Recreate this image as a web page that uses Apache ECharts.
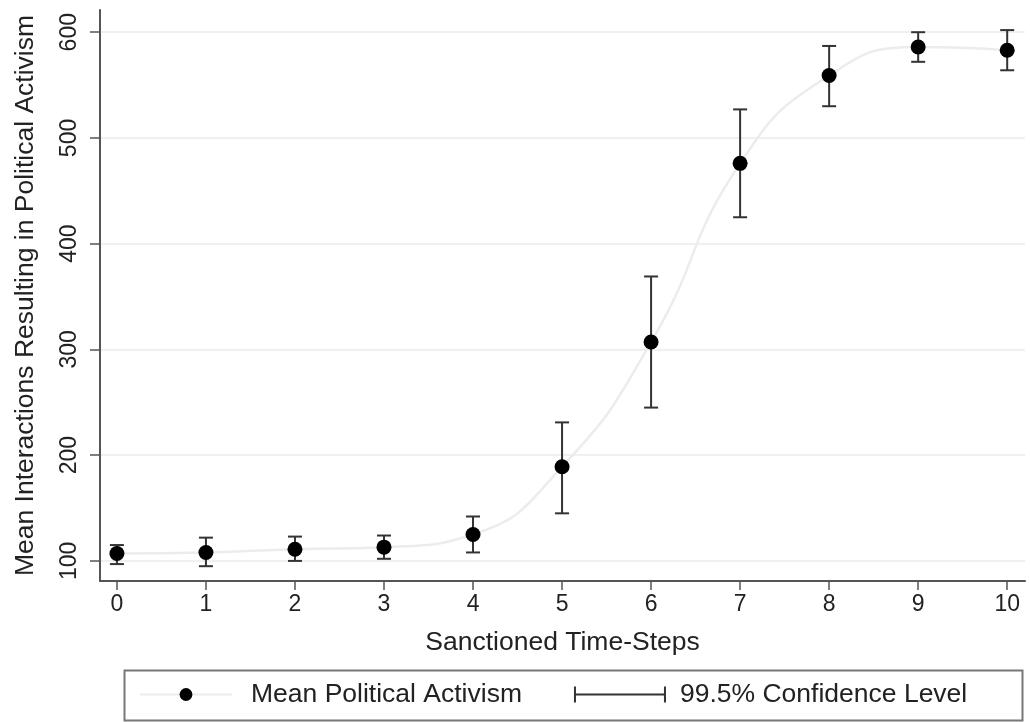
<!DOCTYPE html>
<html>
<head>
<meta charset="UTF-8">
<title>Mean Political Activism</title>
<script src="https://cdn.jsdelivr.net/npm/echarts@6/dist/echarts.min.js"></script>
</head>
<body style="margin:0;background:#fff">
<div id="view" style="width:1030px;height:722px;"></div>
<script>
// values
var steps = [0, 1, 2, 3, 4, 5, 6, 7, 8, 9, 10];
var means = [107, 108, 111, 113, 125, 189, 307, 476, 559, 586, 583];
var lower = [97, 95, 100, 102, 108, 145, 245, 425, 530, 572, 564];
var upper = [115, 122, 123, 124, 142, 231, 369, 527, 587, 600, 602];
var yTicks = [100, 200, 300, 400, 500, 600];
var xTicks = [0, 1, 2, 3, 4, 5, 6, 7, 8, 9, 10];

var font = 'Liberation Sans, Arial, sans-serif';
var meanData = steps.map(function (s, i) { return [s, means[i]]; });
var ciData = steps.map(function (s, i) { return [s, lower[i], upper[i]]; });

var chart = echarts.init(document.getElementById('view'));

function renderBar(params, api) {
    var x = api.value(0);
    var lo = api.coord([x, api.value(1)]);
    var hi = api.coord([x, api.value(2)]);
    var cap = 7;
    var st = { stroke: '#333', lineWidth: 2 };
    return {
        type: 'group',
        children: [
            { type: 'line', shape: { x1: lo[0], y1: lo[1], x2: hi[0], y2: hi[1] }, style: st },
            { type: 'line', shape: { x1: lo[0] - cap, y1: lo[1], x2: lo[0] + cap, y2: lo[1] }, style: st },
            { type: 'line', shape: { x1: hi[0] - cap, y1: hi[1], x2: hi[0] + cap, y2: hi[1] }, style: st }
        ]
    };
}

var option = {
    animation: false,
    backgroundColor: '#fff',
    grid: { left: 100, right: 5, top: 10, bottom: 141, outerBoundsMode: 'none' },
    graphic: [{
        type: 'rect',
        left: 122, top: 668,
        shape: { width: 898, height: 50 },
        style: { fill: 'none', stroke: '#777', lineWidth: 2 }
    }],
    legend: {
        left: 134, top: 676,
        itemGap: 52,
        itemWidth: 92, itemHeight: 16,
        textStyle: { fontFamily: font, fontSize: 26.5, color: '#222', padding: [0, 0, 0, 9] },
        data: [
            { name: 'Mean Political Activism', textStyle: { padding: [0, 0, 0, 14] } },
            { name: '99.5% Confidence Level', icon: 'path://M0,0h2v16h-2z M0,7h92v2h-92z M90,0h2v16h-2z', itemStyle: { color: '#333' } }
        ]
    },
    xAxis: {
        type: 'value',
        min: -0.19, max: 10.2,
        name: 'Sanctioned Time-Steps',
        nameLocation: 'middle', nameGap: 48,
        nameTextStyle: { fontFamily: font, fontSize: 26.5, color: '#222' },
        axisLine: { onZero: false, lineStyle: { color: '#555', width: 2 } },
        axisTick: { show: true, length: 9, customValues: xTicks, lineStyle: { color: '#555', width: 1.5 } },
        axisLabel: { customValues: xTicks, fontFamily: font, fontSize: 23, color: '#222', margin: 12 },
        splitLine: { show: false }
    },
    yAxis: {
        type: 'value',
        min: 81, max: 621,
        name: 'Mean Interactions Resulting in Political Activism',
        nameLocation: 'middle', nameGap: 61,
        nameTextStyle: { fontFamily: font, fontSize: 26.5, color: '#222' },
        axisLine: { show: true, onZero: false, lineStyle: { color: '#555', width: 2 } },
        axisTick: { show: true, length: 10, customValues: yTicks, lineStyle: { color: '#555', width: 1.5 } },
        axisLabel: { customValues: yTicks, rotate: 90, fontFamily: font, fontSize: 23, color: '#222', margin: 19 },
        splitLine: { show: true, lineStyle: { color: '#ebebeb', width: 1.5 } }
    },
    series: [
        {
            name: 'Mean Political Activism',
            type: 'line',
            smooth: true,
            data: meanData,
            symbol: 'circle',
            symbolSize: 15,
            itemStyle: { color: '#000' },
            lineStyle: { color: '#ececec', width: 2.5 },
            z: 3
        },
        {
            name: '99.5% Confidence Level',
            type: 'custom',
            renderItem: renderBar,
            data: ciData,
            itemStyle: { color: '#333' },
            z: 2
        }
    ]
};
chart.setOption(option);
</script>
</body>
</html>
